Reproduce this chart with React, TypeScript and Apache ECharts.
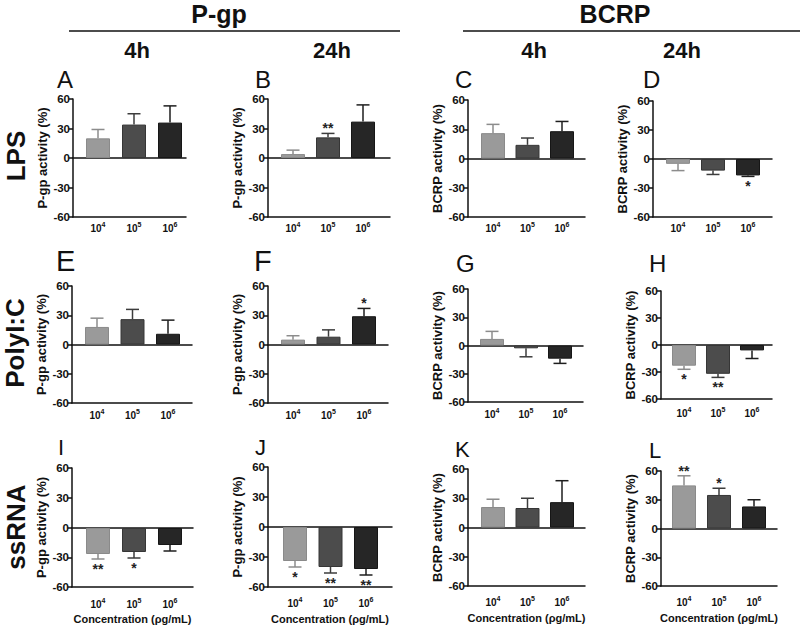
import React, { useEffect, useRef } from 'react';
import * as echarts from 'echarts';

// ---- data ----
const categories = ['10^4', '10^5', '10^6'];
const yMin = -60;
const yMax = 60;
const yStep = 30;

// LPS
const meanA = [20, 34, 36];
const errA = [29, 45, 53];
const sigA = ['', '', ''];
const meanB = [4, 21, 37];
const errB = [8, 25, 54];
const sigB = ['', '**', ''];
const meanC = [26, 14, 28];
const errC = [35, 21, 38];
const sigC = ['', '', ''];
const meanD = [-5, -12, -17];
const errD = [-12, -16, -18];
const sigD = ['', '', '*'];
// PolyI:C
const meanE = [18, 26, 11];
const errE = [27, 36, 25];
const sigE = ['', '', ''];
const meanF = [5, 8, 29];
const errF = [9, 15, 37];
const sigF = ['', '', '*'];
const meanG = [7, -3, -14];
const errG = [15, -12, -19];
const sigG = ['', '', ''];
const meanH = [-23, -32, -6];
const errH = [-27, -36, -15];
const sigH = ['*', '**', ''];
// ssRNA
const meanI = [-26, -24, -17];
const errI = [-31, -30, -23];
const sigI = ['**', '*', ''];
const meanJ = [-34, -40, -42];
const errJ = [-40, -46, -48];
const sigJ = ['*', '**', '**'];
const meanK = [21, 20, 26];
const errK = [29, 30, 48];
const sigK = ['', '', ''];
const meanL = [45, 35, 23];
const errL = [55, 42, 30];
const sigL = ['**', '*', ''];

const pgpTitle = 'P-gp activity (%)';
const bcrpTitle = 'BCRP activity (%)';
const xTitle = 'Concentration (\u03c1g/mL)';

// ---- style ----
const FONT = '"Liberation Sans", Arial, Helvetica, sans-serif';
const INK = '#111111';
const barFill = ['#9a9a9a', '#4c4c4c', '#262626'];
const barEdge = ['#8a8a8a', '#363636', '#161616'];
const errColor = ['#8c8c8c', '#3c3c3c', '#1e1e1e'];

// layout (pixels)
const panels = [
  { letter: 'A', title: pgpTitle, mean: meanA, err: errA, sig: sigA, ax: 73, end: 186, c1: 98, c3: 170, top: 99, bottom: 217, lx: 57, ly: 79, ls: 24, lm: 4, xName: '' },
  { letter: 'B', title: pgpTitle, mean: meanB, err: errB, sig: sigB, ax: 268, end: 390, c1: 293, c3: 363, top: 99, bottom: 217, lx: 255, ly: 79, ls: 24, lm: 4, xName: '' },
  { letter: 'C', title: bcrpTitle, mean: meanC, err: errC, sig: sigC, ax: 468, end: 585, c1: 493, c3: 562, top: 100, bottom: 217, lx: 455, ly: 79, ls: 24, lm: 4, xName: '' },
  { letter: 'D', title: bcrpTitle, mean: meanD, err: errD, sig: sigD, ax: 653, end: 772, c1: 678, c3: 748, top: 101, bottom: 217, lx: 643, ly: 79, ls: 24, lm: 4, xName: '' },
  { letter: 'E', title: pgpTitle, mean: meanE, err: errE, sig: sigE, ax: 72, end: 192, c1: 97, c3: 168, top: 286, bottom: 403, lx: 56, ly: 261, ls: 29, lm: 5, xName: '' },
  { letter: 'F', title: pgpTitle, mean: meanF, err: errF, sig: sigF, ax: 268, end: 388, c1: 293, c3: 364, top: 286, bottom: 403, lx: 254, ly: 261, ls: 29, lm: 5, xName: '' },
  { letter: 'G', title: bcrpTitle, mean: meanG, err: errG, sig: sigG, ax: 468, end: 583, c1: 492, c3: 560, top: 289, bottom: 402, lx: 456, ly: 263, ls: 24, lm: 5, xName: '' },
  { letter: 'H', title: bcrpTitle, mean: meanH, err: errH, sig: sigH, ax: 661, end: 772, c1: 684, c3: 752, top: 291, bottom: 399, lx: 649, ly: 263, ls: 24, lm: 7, xName: '' },
  { letter: 'I', title: pgpTitle, mean: meanI, err: errI, sig: sigI, ax: 72, end: 193, c1: 98, c3: 170, top: 468, bottom: 588, lx: 58, ly: 447, ls: 22, lm: 9, xName: xTitle },
  { letter: 'J', title: pgpTitle, mean: meanJ, err: errJ, sig: sigJ, ax: 268, end: 392, c1: 295, c3: 366, top: 467, bottom: 587, lx: 255, ly: 447, ls: 22, lm: 9, xName: xTitle },
  { letter: 'K', title: bcrpTitle, mean: meanK, err: errK, sig: sigK, ax: 468, end: 585, c1: 493, c3: 562, top: 469, bottom: 586, lx: 455, ly: 449, ls: 22, lm: 9, xName: xTitle },
  { letter: 'L', title: bcrpTitle, mean: meanL, err: errL, sig: sigL, ax: 661, end: 777, c1: 684, c3: 754, top: 471, bottom: 586, lx: 649, ly: 450, ls: 22, lm: 9, xName: xTitle },
];

function buildOption() {
  const grid: any[] = [];
  const xAxis: any[] = [];
  const yAxis: any[] = [];
  const series: any[] = [];
  const graphic: any[] = [];
  const axisLineStyle = { color: INK, width: 1.5 };

  panels.forEach((p, k) => {
    const h = p.bottom - p.top;
    const s = (p.c3 - p.c1) / 2;
    grid.push({ left: p.ax, top: p.top, width: p.end - p.ax, height: h });
    grid.push({ left: p.c1 - s / 2, top: p.top, width: 3 * s, height: h });

    xAxis.push({
      gridIndex: 2 * k, type: 'value', min: 0, max: 1, position: 'top',
      axisLine: { show: true, onZero: true, lineStyle: axisLineStyle },
      axisTick: { show: false }, axisLabel: { show: false }, splitLine: { show: false },
    });
    xAxis.push({
      gridIndex: 2 * k, type: 'value', min: 0, max: 1, position: 'bottom',
      axisLine: { show: true, onZero: false, lineStyle: axisLineStyle },
      axisTick: { show: false }, axisLabel: { show: false }, splitLine: { show: false },
      name: p.xName, nameLocation: 'middle', nameGap: 26,
      nameTextStyle: { fontFamily: FONT, fontWeight: 'bold', fontSize: 11, color: INK },
    });
    xAxis.push({
      gridIndex: 2 * k + 1, type: 'category', data: categories, position: 'bottom',
      axisLine: { show: false, onZero: false }, axisTick: { show: false }, splitLine: { show: false },
      axisLabel: {
        margin: p.lm,
        interval: 0,
        hideOverlap: false,
        formatter: (v: string) => {
          const [b, e] = v.split('^');
          return `{b|${b}}{s|${e}}`;
        },
        rich: {
          b: { fontFamily: FONT, fontWeight: 'bold', fontSize: 10, color: INK, verticalAlign: 'bottom', lineHeight: 12 },
          s: { fontFamily: FONT, fontWeight: 'bold', fontSize: 7, color: INK, verticalAlign: 'top', lineHeight: 12 },
        },
      },
    });

    yAxis.push({
      gridIndex: 2 * k, type: 'value', min: yMin, max: yMax, interval: yStep, position: 'left',
      axisLine: { show: true, onZero: false, lineStyle: axisLineStyle },
      axisTick: { show: true, length: 4, lineStyle: { color: INK, width: 1.5 } },
      axisLabel: { margin: 3, fontFamily: FONT, fontWeight: 'bold', fontSize: 11.5, color: INK },
      splitLine: { show: false },
      name: p.title, nameLocation: 'middle', nameRotate: 90, nameGap: 24,
      nameTextStyle: { fontFamily: FONT, fontWeight: 'bold', fontSize: 13, color: INK },
    });
    yAxis.push({ gridIndex: 2 * k + 1, type: 'value', min: yMin, max: yMax, interval: yStep, show: false });

    series.push({
      type: 'bar', xAxisIndex: 3 * k + 2, yAxisIndex: 2 * k + 1, barWidth: 24, silent: true, z: 2,
      data: p.mean.map((v, i) => ({ value: v, itemStyle: { color: barFill[i], borderColor: barEdge[i], borderWidth: 1 } })),
    });
    const sig = p.sig;
    series.push({
      type: 'custom', xAxisIndex: 3 * k + 2, yAxisIndex: 2 * k + 1, silent: true, z: 3,
      data: p.mean.map((v, i) => [i, v, p.err[i]]),
      renderItem: (params: any, api: any) => {
        const i = api.value(0);
        const m = api.value(1);
        const e = api.value(2);
        const a = api.coord([i, m]);
        const b = api.coord([i, e]);
        const col = errColor[i];
        const cap = 6.5;
        const children: any[] = [
          { type: 'line', shape: { x1: a[0], y1: a[1], x2: b[0], y2: b[1] }, style: { stroke: col, lineWidth: 1.5 } },
          { type: 'line', shape: { x1: b[0] - cap, y1: b[1], x2: b[0] + cap, y2: b[1] }, style: { stroke: col, lineWidth: 1.5 } },
        ];
        const st = sig[i];
        if (st) {
          children.push({
            type: 'text', x: b[0], y: e < 0 ? b[1] + 10 : b[1] - 5,
            style: { text: st, fontFamily: FONT, fontWeight: 'bold', fontSize: 14, fill: '#222', align: 'center', verticalAlign: 'middle' },
          });
        }
        return { type: 'group', children };
      },
    });

    graphic.push({
      type: 'text', x: p.lx, y: p.ly,
      style: { text: p.letter, fontFamily: FONT, fontSize: p.ls, fill: INK, align: 'left', verticalAlign: 'middle' },
    });
  });

  const headStyle = (t: string, size: number) => ({
    text: t, fontFamily: FONT, fontWeight: 'bold', fontSize: size, fill: INK, align: 'center', verticalAlign: 'middle',
  });
  graphic.push(
    { type: 'text', x: 219, y: 14, style: headStyle('P-gp', 25) },
    { type: 'text', x: 615, y: 14, style: headStyle('BCRP', 25) },
    { type: 'line', shape: { x1: 69, y1: 31, x2: 400, y2: 31 }, style: { stroke: INK, lineWidth: 1.5 } },
    { type: 'line', shape: { x1: 463, y1: 31, x2: 800, y2: 31 }, style: { stroke: INK, lineWidth: 1.5 } },
    { type: 'text', x: 137, y: 50, style: headStyle('4h', 22) },
    { type: 'text', x: 332, y: 50, style: headStyle('24h', 22) },
    { type: 'text', x: 534, y: 50, style: headStyle('4h', 22) },
    { type: 'text', x: 682, y: 50, style: headStyle('24h', 22) },
    { type: 'text', x: 16, y: 156, rotation: Math.PI / 2, style: headStyle('LPS', 26) },
    { type: 'text', x: 15, y: 343, rotation: Math.PI / 2, style: headStyle('PolyI:C', 26) },
    { type: 'text', x: 16, y: 527, rotation: Math.PI / 2, style: headStyle('ssRNA', 26) },
  );

  return { animation: false, backgroundColor: '#ffffff', grid, xAxis, yAxis, series, graphic };
}

export default function App() {
  const ref = useRef<HTMLDivElement>(null);
  useEffect(() => {
    if (!ref.current) return;
    const chart = echarts.init(ref.current, undefined, { renderer: 'svg' });
    chart.setOption(buildOption() as any);
    return () => chart.dispose();
  }, []);
  return <div ref={ref} style={{ position: 'fixed', left: 0, top: 0, width: 800, height: 625, background: '#fff' }} />;
}
